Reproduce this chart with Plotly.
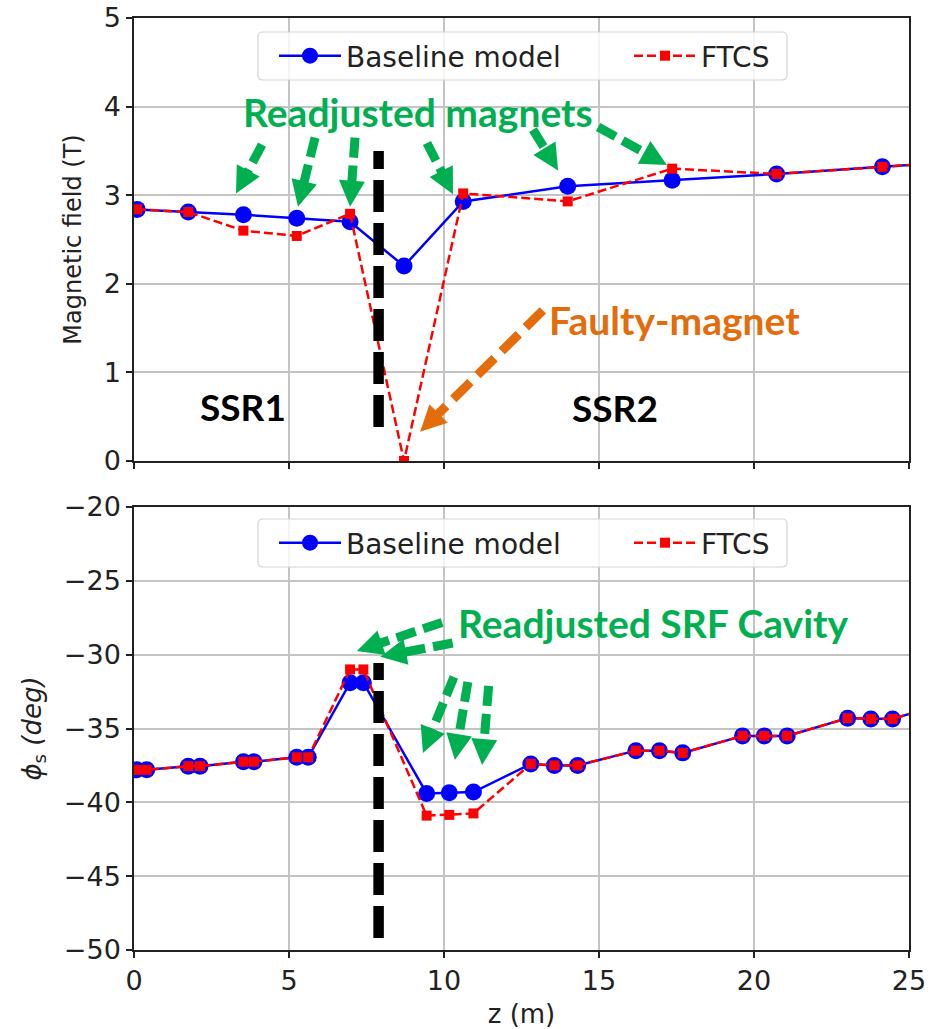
import math
import plotly.graph_objects as go

# ---------------- data ----------------
z_field = [0.1, 1.75, 3.53, 5.25, 6.97, 8.71, 10.62, 13.99, 17.36, 20.73, 24.14, 27.5]
field_baseline = [2.84, 2.81, 2.78, 2.74, 2.70, 2.20, 2.93, 3.10, 3.17, 3.24, 3.32, 3.40]
field_ftcs = [2.84, 2.81, 2.60, 2.54, 2.79, 0.0, 3.02, 2.93, 3.30, 3.24, 3.32, 3.40]

z_phase = [0.09, 0.41, 1.75, 2.13, 3.53, 3.87, 5.25, 5.62, 6.97, 7.40,
           9.44, 10.17, 10.95, 12.80, 13.56, 14.31, 16.19, 16.95, 17.70,
           19.63, 20.33, 21.07, 23.02, 23.77, 24.47, 25.9]
phase_baseline = [-37.8, -37.8, -37.55, -37.55, -37.25, -37.25, -36.95, -36.95, -31.9, -31.9,
                  -39.4, -39.35, -39.3, -37.4, -37.5, -37.5, -36.5, -36.5, -36.65,
                  -35.5, -35.5, -35.5, -34.3, -34.35, -34.35, -33.45]
phase_ftcs = [-37.8, -37.8, -37.55, -37.55, -37.25, -37.25, -36.95, -36.95, -31.0, -31.0,
              -40.9, -40.85, -40.75, -37.4, -37.5, -37.5, -36.5, -36.5, -36.65,
              -35.5, -35.5, -35.5, -34.3, -34.35, -34.35, -33.45]

x_ticks = [0, 5, 10, 15, 20, 25]
field_ticks = [0, 1, 2, 3, 4, 5]
phase_ticks = [-50, -45, -40, -35, -30, -25, -20]
X_RANGE = [0, 25]
FIELD_RANGE = [0, 5]
PHASE_RANGE = [-50, -20]

series_names = ["Baseline model", "FTCS"]

# annotation content (data coordinates)
fault_z = 7.89
top_divider = [0.384, 3.50]
bottom_divider = [-49.18, -30.56]
top_green_arrows = [((4.13, 3.57), (3.29, 3.02)), ((5.84, 3.65), (5.29, 2.87)),
                    ((7.13, 3.65), (6.97, 2.87)), ((9.45, 3.59), (10.29, 3.01)),
                    ((12.87, 3.74), (13.68, 3.28)), ((14.97, 3.77), (17.19, 3.34))]
orange_arrow = ((13.19, 1.70), (9.23, 0.33))
bottom_green_arrows = [((9.94, -27.82), (7.19, -29.75)), ((10.28, -29.21), (7.95, -30.14)),
                       ((10.32, -31.51), (9.32, -36.66)), ((10.77, -31.85), (10.35, -37.13)),
                       ((11.44, -32.12), (11.23, -37.47))]

# ---------------- geometry ----------------
W, H = 941, 1029
ML, MR, MT, MB = 134, 32, 18, 79
GAP = 46
PW = W - ML - MR
PH = H - MT - MB
PANEL = (PH - GAP) / 2.0
top_dom = [(PANEL + GAP) / PH, 1.0]
bot_dom = [0.0, PANEL / PH]

GREEN = "#00b050"
ORANGE = "#e46c0a"
FONT = "DejaVu Sans"
AFONT = "Lato"
TXT = "#222222"


def to_px(panel, x, y):
    X = ML + (x - X_RANGE[0]) / (X_RANGE[1] - X_RANGE[0]) * PW
    if panel == "top":
        r, pbot = FIELD_RANGE, MT + PANEL
    else:
        r, pbot = PHASE_RANGE, MT + PH
    Y = pbot - (y - r[0]) / (r[1] - r[0]) * PANEL
    return X, Y


def to_data(panel, X, Y):
    x = X_RANGE[0] + (X - ML) / PW * (X_RANGE[1] - X_RANGE[0])
    if panel == "top":
        r, pbot = FIELD_RANGE, MT + PANEL
    else:
        r, pbot = PHASE_RANGE, MT + PH
    y = r[0] + (pbot - Y) / PANEL * (r[1] - r[0])
    return x, y


def px_to_paper(X, Y):
    return (X - ML) / PW, (MT + PH - Y) / PH


shapes = []


def add_arrow(panel, tail, tip, color, width=9, dash="20px,8px", head_len=26, head_half=13):
    xr, yr = ("x", "y") if panel == "top" else ("x2", "y2")
    tx, ty = to_px(panel, *tail)
    hx, hy = to_px(panel, *tip)
    dx, dy = hx - tx, hy - ty
    L = math.hypot(dx, dy)
    ux, uy = dx / L, dy / L
    bx, by = hx - ux * head_len, hy - uy * head_len
    nx, ny = -uy, ux
    ex, ey = to_data(panel, bx + ux * 2, by + uy * 2)
    shapes.append(dict(type="line", xref=xr, yref=yr, x0=tail[0], y0=tail[1], x1=ex, y1=ey,
                       line=dict(color=color, width=width, dash=dash), layer="above"))
    pts = [(hx, hy), (bx + nx * head_half, by + ny * head_half), (bx - nx * head_half, by - ny * head_half)]
    dpts = [to_data(panel, *p) for p in pts]
    path = "M{},{} L{},{} L{},{} Z".format(*[v for p in dpts for v in p])
    shapes.append(dict(type="path", xref=xr, yref=yr, path=path, fillcolor=color,
                       line=dict(color=color, width=0), layer="above"))


def add_legend_frame(left, top, right, bottom, r=5):
    x0, y0 = px_to_paper(left, bottom)
    x1, y1 = px_to_paper(right, top)
    rx = r / PW
    ry = r / PH
    path = (f"M{x0 + rx},{y0} L{x1 - rx},{y0} Q{x1},{y0} {x1},{y0 + ry} "
            f"L{x1},{y1 - ry} Q{x1},{y1} {x1 - rx},{y1} L{x0 + rx},{y1} "
            f"Q{x0},{y1} {x0},{y1 - ry} L{x0},{y0 + ry} Q{x0},{y0} {x0 + rx},{y0} Z")
    shapes.append(dict(type="path", xref="paper", yref="paper", path=path,
                       fillcolor="rgba(255,255,255,0.82)",
                       line=dict(color="#d4d4d4", width=1.2), layer="above"))


fig = go.Figure()
fig.add_trace(go.Scatter(x=z_field, y=field_baseline, mode="lines+markers", name=series_names[0],
                         line=dict(color="blue", width=2.5),
                         marker=dict(symbol="circle", size=17, color="blue"),
                         xaxis="x", yaxis="y", legend="legend"))
fig.add_trace(go.Scatter(x=z_field, y=field_ftcs, mode="lines+markers", name=series_names[1],
                         line=dict(color="red", width=2.5, dash="9px,4px"),
                         marker=dict(symbol="square", size=10, color="red"),
                         xaxis="x", yaxis="y", legend="legend"))
fig.add_trace(go.Scatter(x=z_phase, y=phase_baseline, mode="lines+markers", name=series_names[0],
                         line=dict(color="blue", width=2.5),
                         marker=dict(symbol="circle", size=17, color="blue"),
                         xaxis="x2", yaxis="y2", legend="legend2"))
fig.add_trace(go.Scatter(x=z_phase, y=phase_ftcs, mode="lines+markers", name=series_names[1],
                         line=dict(color="red", width=2.5, dash="9px,4px"),
                         marker=dict(symbol="square", size=10, color="red"),
                         xaxis="x2", yaxis="y2", legend="legend2"))

# divider lines (drawn from the bottom upward)
shapes.append(dict(type="line", xref="x", yref="y", x0=fault_z, x1=fault_z,
                   y0=top_divider[0], y1=top_divider[1],
                   line=dict(color="black", width=10.5, dash="32px,11px"), layer="above"))
shapes.append(dict(type="line", xref="x2", yref="y2", x0=fault_z, x1=fault_z,
                   y0=bottom_divider[0], y1=bottom_divider[1],
                   line=dict(color="black", width=10.5, dash="32px,11px"), layer="above"))

for tail, tip in top_green_arrows:
    add_arrow("top", tail, tip, GREEN)
add_arrow("top", orange_arrow[0], orange_arrow[1], ORANGE, dash="24px,10px")
for tail, tip in bottom_green_arrows:
    add_arrow("bottom", tail, tip, GREEN)

# legend frames (rounded, like the reference)
add_legend_frame(258, 32, 787, 80)
add_legend_frame(258, 519, 787, 567)

annotations = [
    dict(text="<b>Readjusted magnets</b>", x=9.16, y=3.94, xref="x", yref="y",
         font=dict(family=AFONT, size=39, color=GREEN)),
    dict(text="<b>Faulty-magnet</b>", x=17.42, y=1.59, xref="x", yref="y",
         font=dict(family=AFONT, size=39, color=ORANGE)),
    dict(text="<b>SSR1</b>", x=3.53, y=0.62, xref="x", yref="y",
         font=dict(family=AFONT, size=37, color="black")),
    dict(text="<b>SSR2</b>", x=15.52, y=0.60, xref="x", yref="y",
         font=dict(family=AFONT, size=37, color="black")),
    dict(text="<b>Readjusted SRF Cavity</b>", x=16.76, y=-27.86, xref="x2", yref="y2",
         font=dict(family=AFONT, size=39, color=GREEN)),
]
for a in annotations:
    a.update(showarrow=False, xanchor="center", yanchor="middle")

axis_common = dict(showgrid=True, gridcolor="#c4c4c4", gridwidth=1.5, zeroline=False,
                   showline=True, linecolor=TXT, linewidth=1.5, mirror=True,
                   ticks="outside", ticklen=6, tickwidth=1.5, tickcolor=TXT,
                   tickfont=dict(family=FONT, size=27, color=TXT))

legend_common = dict(orientation="h", xanchor="left", yanchor="middle",
                     bgcolor="rgba(0,0,0,0)", borderwidth=0,
                     itemwidth=62, entrywidth=278, entrywidthmode="pixels",
                     font=dict(family=FONT, size=28, color=TXT))

lx, ly_top = px_to_paper(274, 56)
_, ly_bot = px_to_paper(274, 543)

fig.update_layout(
    width=W, height=H,
    margin=dict(l=ML, r=MR, t=MT, b=MB, autoexpand=False),
    paper_bgcolor="white", plot_bgcolor="white",
    showlegend=True,
    xaxis=dict(domain=[0, 1], range=X_RANGE, anchor="y", tickvals=x_ticks, showticklabels=False,
               **axis_common),
    yaxis=dict(domain=top_dom, range=FIELD_RANGE, anchor="x", tickvals=field_ticks,
               title=dict(text="Magnetic field (T)", font=dict(family=FONT, size=24, color=TXT)),
               **axis_common),
    xaxis2=dict(domain=[0, 1], range=X_RANGE, anchor="y2", tickvals=x_ticks,
                title=dict(text="z (m)", font=dict(family=FONT, size=26, color=TXT)),
                **axis_common),
    yaxis2=dict(domain=bot_dom, range=PHASE_RANGE, anchor="x2", tickvals=phase_ticks,
                title=dict(text="<i>ϕ</i><sub>s</sub> <i>(deg)</i>",
                           font=dict(family=FONT, size=26, color=TXT)),
                **axis_common),
    legend=dict(x=lx, y=ly_top, **legend_common),
    legend2=dict(x=lx, y=ly_bot, **legend_common),
    shapes=shapes,
    annotations=annotations,
)

fig.write_html("out.html")
